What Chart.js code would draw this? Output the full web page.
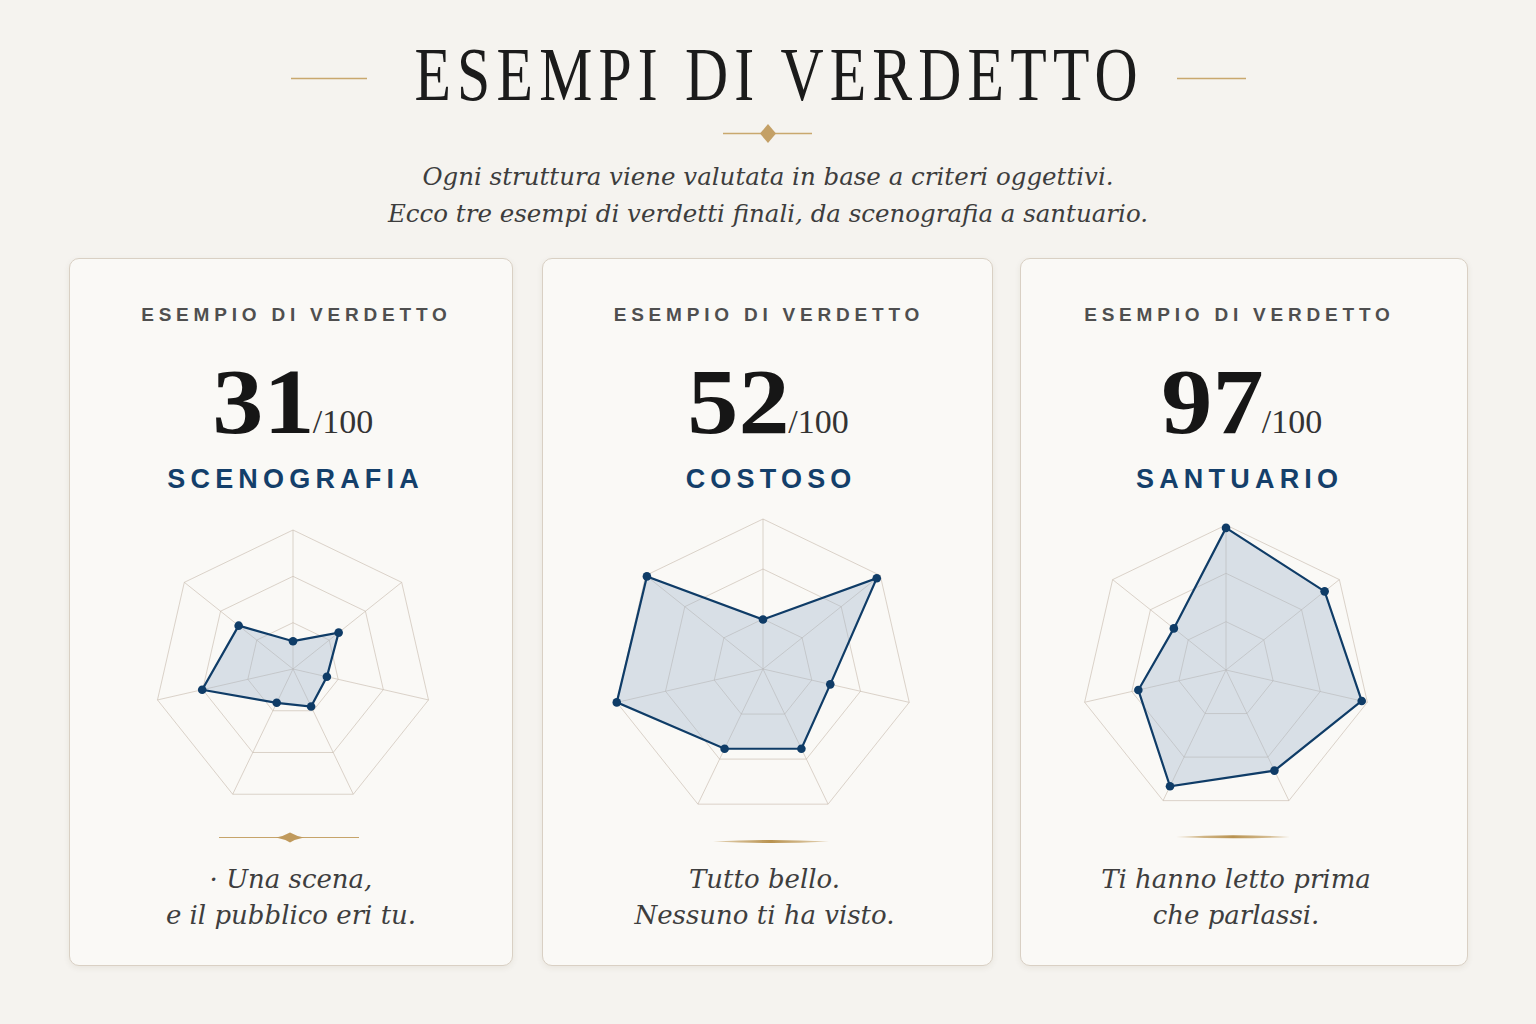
<!DOCTYPE html>
<html lang="it">
<head>
<meta charset="utf-8">
<script src="https://cdn.jsdelivr.net/npm/chart.js@4.4.1/dist/chart.umd.min.js"></script>
<style>
  html, body { margin:0; padding:0; }
  body { width:1536px; height:1024px; position:relative; overflow:hidden;
         background:#f5f3ef; font-family:"Liberation Serif", serif; }
  .abs { position:absolute; }
  .title { left:0; width:1536px; top:36px; text-align:center; line-height:1;
           font-family:"Liberation Serif", serif; font-size:77px; color:#1b1b1b; letter-spacing:8px; text-indent:8px;
           transform:translateX(6px) scaleX(0.775); transform-origin:777px 0; white-space:nowrap; }
  .sub { left:0; width:1536px; text-align:center; font-family:"DejaVu Serif", serif; font-style:italic;
         font-size:24.5px; color:#3d3d3d; line-height:1; white-space:nowrap; }
  .card { background:#faf9f6; border:1.5px solid #d9d0c4; border-radius:10px;
          box-shadow:0 2px 6px rgba(80,60,30,0.08); box-sizing:border-box; }
  .hdr { left:0; right:0; text-align:center; font-family:"Liberation Sans", sans-serif; font-weight:700;
         font-size:19px; letter-spacing:4.8px; text-indent:4.8px; color:#4f4f4f; line-height:1; white-space:nowrap; }
  .score { left:0; right:0; text-align:center; line-height:1; white-space:nowrap; color:#161616; }
  .score b { display:inline-block; font-family:"Liberation Serif", serif; font-weight:700; font-size:93px;
             transform:scaleX(1.1); margin:0 3px 0 4px; }
  .score span { font-family:"Liberation Serif", serif; font-size:34px; color:#333; }
  .verdict { left:0; right:0; text-align:center; font-family:"Liberation Sans", sans-serif; font-weight:700;
             font-size:27px; letter-spacing:5.2px; text-indent:5.2px; color:#143f6a; line-height:1; white-space:nowrap; }
  .quote { left:0; right:0; text-align:center; font-family:"DejaVu Serif", serif; font-style:italic;
           font-size:26px; color:#3e3e3e; line-height:36px; white-space:nowrap; }
  canvas { position:absolute; }
</style>
</head>
<body>
<script>
// ---- DATA ----
const criteria = ["Criterio 1", "Criterio 2", "Criterio 3", "Criterio 4", "Criterio 5", "Criterio 6", "Criterio 7"];
const cardLabels = ["ESEMPIO DI VERDETTO", "ESEMPIO DI VERDETTO", "ESEMPIO DI VERDETTO"];
const scores = [31, 52, 97];
const verdicts = ["SCENOGRAFIA", "COSTOSO", "SANTUARIO"];
const scenografiaValues = [20, 42, 25, 30, 27, 67, 50];
const costosoValues = [33, 97, 46, 59, 59, 100, 99];
const santuarioValues = [98, 87, 96, 77, 89, 62, 46];
const quotes = [["· Una scena,", "e il pubblico eri tu."], ["Tutto bello.", "Nessuno ti ha visto."], ["Ti hanno letto prima", "che parlassi."]];
const scaleMax = 100;
</script>

<!-- Header -->
<div class="abs title">ESEMPI DI VERDETTO</div>
<svg class="abs" style="left:0;top:0" width="1536" height="240">
  <line x1="291" y1="78.5" x2="367" y2="78.5" stroke="#c9a86e" stroke-width="1.3"/>
  <line x1="1177" y1="78.5" x2="1246" y2="78.5" stroke="#c9a86e" stroke-width="1.3"/>
  <line x1="723" y1="133.5" x2="812" y2="133.5" stroke="#c9a86e" stroke-width="1.3"/>
  <polygon points="768,124 776,133.5 768,143 760,133.5" fill="#c4a066"/>
</svg>
<div class="abs sub" style="top:165px">Ogni struttura viene valutata in base a criteri oggettivi.</div>
<div class="abs sub" style="top:202px">Ecco tre esempi di verdetti finali, da scenografia a santuario.</div>

<div id="cards"></div>

<script>
const cardBoxes = [
  {x:69, y:258, w:444, h:708},
  {x:542, y:258, w:451, h:708},
  {x:1020, y:258, w:448, h:708}
];
const textShift = [
  {hdr:3, score:2, verdict:2, quote:0},
  {hdr:-1, score:1, verdict:1, quote:-3},
  {hdr:-7, score:-2, verdict:-7, quote:-8}
];
const chartBoxes = [
  {cx:292.7, cy:669.3, r:139},
  {cx:763, cy:669, r:150},
  {cx:1226, cy:670, r:145}
];
const seriesList = [scenografiaValues, costosoValues, santuarioValues];
const cardsEl = document.getElementById('cards');

cardBoxes.forEach((b, i) => {
  const c = document.createElement('div');
  c.className = 'abs card';
  Object.assign(c.style, {left:b.x+'px', top:b.y+'px', width:b.w+'px', height:b.h+'px'});
  const s = textShift[i];
  const sh = v => `transform:translateX(${v}px)`;
  c.innerHTML =
    `<div class="abs hdr" style="top:46px;${sh(s.hdr)}">${cardLabels[i]}</div>` +
    `<div class="abs score" style="top:96px;${sh(s.score)}"><b>${scores[i]}</b><span>/100</span></div>` +
    `<div class="abs verdict" style="top:207px;${sh(s.verdict)}">${verdicts[i]}</div>` +
    `<div class="abs quote" style="top:602px;${sh(s.quote)}">${quotes[i][0]}<br>${quotes[i][1]}</div>`;
  cardsEl.appendChild(c);
});

// dividers
const div = document.createElementNS('http://www.w3.org/2000/svg','svg');
div.setAttribute('width','1536'); div.setAttribute('height','1024');
div.style.position='absolute'; div.style.left='0'; div.style.top='0'; div.style.pointerEvents='none';
div.innerHTML = `
  <defs>
    <linearGradient id="g1" x1="0" x2="1"><stop offset="0" stop-color="#c9a86e" stop-opacity="0.5"/><stop offset="0.5" stop-color="#b8924f"/><stop offset="1" stop-color="#c9a86e" stop-opacity="0.5"/></linearGradient>
  </defs>
  <line x1="219" y1="837.5" x2="359" y2="837.5" stroke="#c6a46a" stroke-width="1.2"/>
  <path d="M276,837.5 Q284,836 290,832.5 Q296,836 304,837.5 Q296,839 290,842.5 Q284,839 276,837.5 Z" fill="#c09a5c"/>
  <path d="M713,841.5 Q771,838.5 829,841.5 Q771,844.5 713,841.5 Z" fill="url(#g1)"/>
  <path d="M1176,837 Q1233,833.5 1290,837 Q1233,839.5 1176,837 Z" fill="url(#g1)"/>
`;
document.body.appendChild(div);

// charts
const pad = 8;
chartBoxes.forEach((cb, i) => {
  const size = Math.round(2*cb.r + 2*pad);
  const cv = document.createElement('canvas');
  cv.width = size; cv.height = size;
  cv.style.left = (cb.cx - size/2) + 'px';
  cv.style.top = (cb.cy - size/2) + 'px';
  cv.style.width = size+'px'; cv.style.height = size+'px';
  document.body.appendChild(cv);
  new Chart(cv, {
    type:'radar',
    data:{ labels:criteria, datasets:[{
      data:seriesList[i],
      borderColor:'#0f3c67', borderWidth:2.2,
      backgroundColor:'rgba(160,181,206,0.38)',
      fill:true,
      pointRadius:4.3, pointBackgroundColor:'#0f3c67', pointBorderColor:'#0f3c67', pointBorderWidth:0,
      tension:0
    }]},
    options:{
      responsive:false, animation:false, devicePixelRatio:1,
      layout:{padding:pad},
      plugins:{legend:{display:false}, tooltip:{enabled:false}},
      scales:{ r:{
        min:0, max:scaleMax, beginAtZero:true,
        ticks:{display:false, count:4},
        pointLabels:{display:false},
        grid:{color:'rgba(196,184,170,0.6)', lineWidth:1},
        angleLines:{color:'rgba(196,184,170,0.6)', lineWidth:1}
      }}
    }
  });
});
</script>
</body>
</html>
